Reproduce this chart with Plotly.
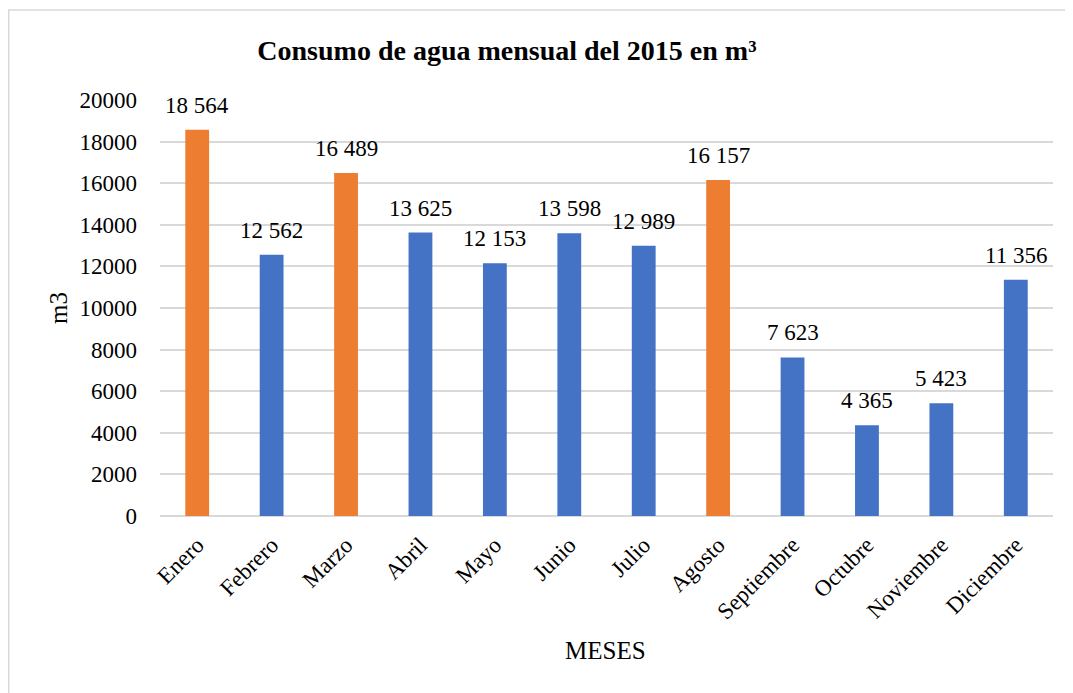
import plotly.graph_objects as go

meses = ["Enero", "Febrero", "Marzo", "Abril", "Mayo", "Junio", "Julio",
         "Agosto", "Septiembre", "Octubre", "Noviembre", "Diciembre"]
consumo = [18564, 12562, 16489, 13625, 12153, 13598, 12989, 16157,
           7623, 4365, 5423, 11356]
colores = ["#ED7D31", "#4472C4", "#ED7D31", "#4472C4", "#4472C4", "#4472C4",
           "#4472C4", "#ED7D31", "#4472C4", "#4472C4", "#4472C4", "#4472C4"]
etiquetas = ["18 564", "12 562", "16 489", "13 625", "12 153", "13 598",
             "12 989", "16 157", "7 623", "4 365", "5 423", "11 356"]
y_ticks = [0, 2000, 4000, 6000, 8000, 10000, 12000, 14000, 16000, 18000, 20000]

FONT = "Liberation Serif"

fig = go.Figure()
fig.add_trace(go.Bar(
    x=meses, y=consumo,
    marker=dict(color=colores, line=dict(width=0)),
    hoverinfo="x+y",
))

for m, v, t in zip(meses, consumo, etiquetas):
    fig.add_annotation(x=m, y=v, text=t, showarrow=False, yanchor="bottom",
                       yshift=10, font=dict(family=FONT, size=23, color="#000000"))

fig.add_annotation(text="m3", xref="paper", yref="paper", x=-0.1142, y=0.5,
                   xanchor="center", yanchor="middle", textangle=-90, showarrow=False,
                   font=dict(family=FONT, size=25, color="#000000"))
fig.add_annotation(text="MESES", xref="paper", yref="paper", x=0.4994, y=-0.3245,
                   xanchor="center", yanchor="middle", showarrow=False,
                   font=dict(family=FONT, size=25, color="#000000"))

fig.update_layout(
    width=1073, height=693,
    paper_bgcolor="white", plot_bgcolor="white",
    margin=dict(l=152, r=28, t=92, b=185),
    bargap=0.68,
    showlegend=False,
    font=dict(family=FONT, color="#000000"),
    title=dict(text="<b>Consumo de agua mensual del 2015 en m³</b>",
               x=0.465, xanchor="center", xref="container", y=0.9394, yanchor="middle",
               font=dict(family=FONT, size=28, color="#000000")),
    xaxis=dict(
        type="category", tickangle=-45, tickfont=dict(family=FONT, size=23),
        showgrid=False, showline=False, ticks="", ticklabelstandoff=10,
    ),
    yaxis=dict(
        range=[0, 20000], tickvals=y_ticks, ticktext=[str(v) for v in y_ticks],
        tickfont=dict(family=FONT, size=23),
        showgrid=True, gridcolor="#D9D9D9", gridwidth=1.5,
        zeroline=True, zerolinecolor="#D9D9D9", zerolinewidth=2,
        showline=False, ticks="", ticklabelstandoff=22,
    ),
    shapes=[dict(type="rect", xref="paper", yref="paper",
                 x0=-0.1694, x1=1.1, y0=-0.5, y1=1.2163,
                 line=dict(color="#D9D9D9", width=1.5), fillcolor="rgba(0,0,0,0)",
                 layer="below")],
)

fig.write_html("out.html")
